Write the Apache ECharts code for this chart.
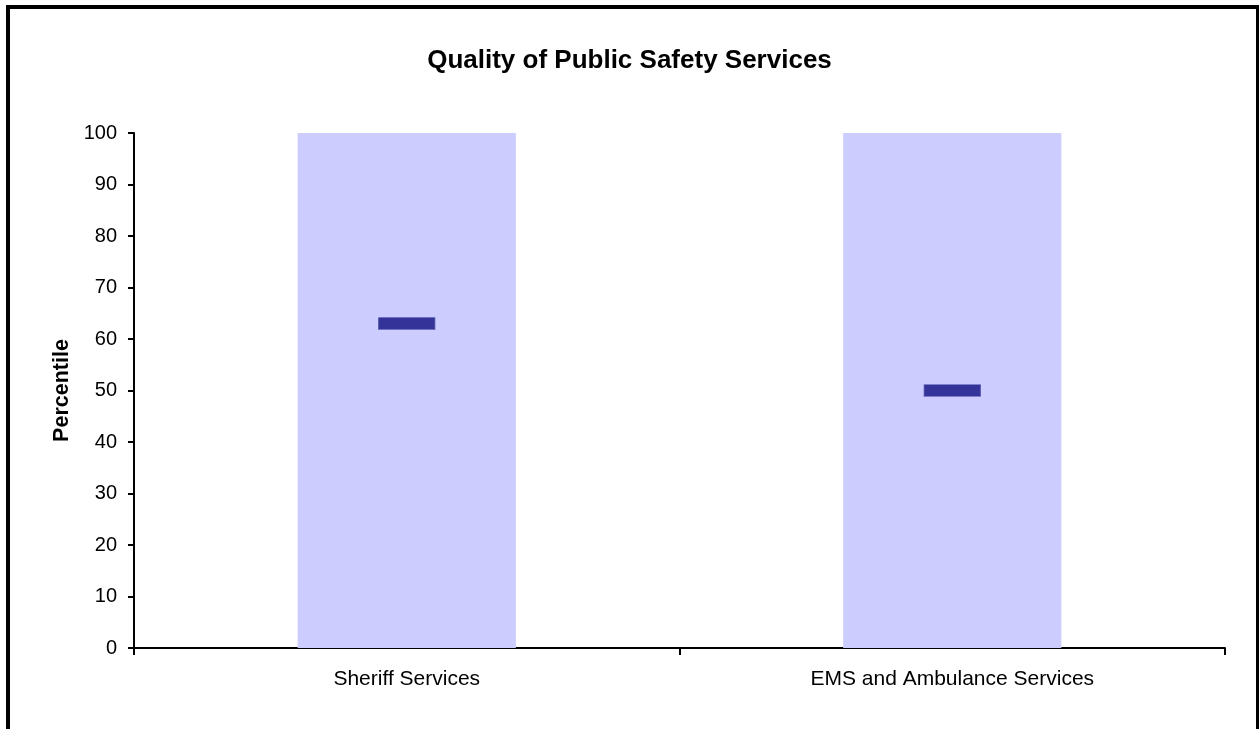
<!DOCTYPE html>
<html>
<head>
<meta charset="utf-8">
<title>Quality of Public Safety Services</title>
<script src="https://cdn.jsdelivr.net/npm/echarts@6/dist/echarts.min.js"></script>
<style>
  html, body { margin: 0; padding: 0; background: #ffffff; }
  #chart { width: 1259px; height: 729px; }
</style>
</head>
<body>
<div id="chart"></div>
<script>
// Service categories and their percentile scores
var categories = ['Sheriff Services', 'EMS and Ambulance Services'];
// Full percentile range shown behind each score
var rangeMax = [100, 100];
// Percentile score of each service
var percentile = [63, 50];
// Y-axis scale
var yMin = 0, yMax = 100, yStep = 10;

var FONT = '"Liberation Sans", Arial, sans-serif';

var chart = echarts.init(document.getElementById('chart'), null, { renderer: 'canvas' });

chart.setOption({
  backgroundColor: '#ffffff',
  animation: false,
  title: {
    text: 'Quality of Public Safety Services',
    left: 'center',
    top: 43,
    textStyle: { fontFamily: FONT, fontWeight: 'bold', fontSize: 26, color: '#000000' }
  },
  graphic: [{
    type: 'rect',
    shape: { x: 8, y: 7, width: 1250, height: 800 },
    style: { fill: 'none', stroke: '#000000', lineWidth: 4 },
    silent: true,
    z: 100
  }],
  grid: { left: 134, right: 34, top: 133, bottom: 81, containLabel: false },
  xAxis: {
    type: 'category',
    data: categories,
    axisLine: { lineStyle: { color: '#000000', width: 2 } },
    axisTick: { show: true, length: 7, lineStyle: { color: '#000000', width: 2 } },
    axisLabel: { fontFamily: FONT, fontSize: 21, color: '#000000', margin: 21 }
  },
  yAxis: {
    type: 'value',
    min: yMin,
    max: yMax,
    interval: yStep,
    name: 'Percentile',
    nameLocation: 'middle',
    nameGap: 58,
    nameRotate: 90,
    nameTextStyle: { fontFamily: FONT, fontWeight: 'bold', fontSize: 21.5, color: '#000000' },
    splitLine: { show: false },
    axisLine: { show: true, lineStyle: { color: '#000000', width: 2 } },
    axisTick: { show: true, length: 6, lineStyle: { color: '#000000', width: 2 } },
    axisLabel: { fontFamily: FONT, fontSize: 20, color: '#000000', margin: 17 }
  },
  series: [
    {
      name: 'Range',
      type: 'bar',
      data: rangeMax,
      barWidth: '40%',
      itemStyle: { color: '#ccccff' },
      z: 1
    },
    {
      name: 'Percentile',
      type: 'scatter',
      data: percentile,
      symbol: 'rect',
      symbolSize: [56, 12],
      itemStyle: { color: '#333399', opacity: 1, borderColor: '#4a4aa6', borderWidth: 0.5 },
      z: 3
    }
  ]
});
</script>
</body>
</html>
